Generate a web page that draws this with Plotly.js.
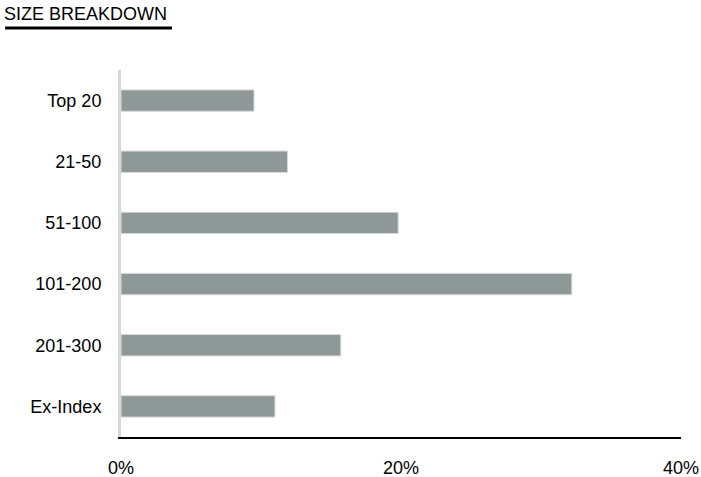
<!DOCTYPE html>
<html>
<head>
<meta charset="utf-8">
<script src="https://cdn.plot.ly/plotly-3.0.1.min.js"></script>
<style>
  body { margin: 0; background: #fff; }
  #chart { width: 701px; height: 477px; }
</style>
</head>
<body>
<div id="chart"></div>
<script>
// size buckets, top to bottom
var categories = ["Top 20", "21-50", "51-100", "101-200", "201-300", "Ex-Index"];
var shares = [9.5, 11.9, 19.8, 32.2, 15.7, 11.0]; // percent
var tickValues = [0, 20, 40];
var tickLabels = ["0%", "20%", "40%"];

var font = "'Liberation Sans Narrow', 'Arial Narrow', 'Liberation Sans', Arial, sans-serif";

var bars = [
    {
        type: "bar",
        orientation: "h",
        y: categories,
        x: shares,
        width: 0.35,
        marker: {
            color: "#8e9997",
            line: { color: "#d8dcdb", width: 1 },
        },
        hoverinfo: "x+y",
    },
];

var layout = {
    width: 701,
    height: 477,
    margin: { l: 121, r: 20, t: 70, b: 40 },
    paper_bgcolor: "#fff",
    plot_bgcolor: "#fff",
    showlegend: false,
    font: { family: font, size: 18, color: "#000" },
    xaxis: {
        range: [0, 40],
        tickvals: tickValues,
        ticktext: tickLabels,
        showgrid: false,
        zeroline: false,
        showline: true,
        linecolor: "#000",
        linewidth: 1.5,
        ticks: "",
        ticklabelstandoff: 14,
        tickfont: { family: font, size: 18, color: "#000" },
        fixedrange: true,
    },
    yaxis: {
        autorange: "reversed",
        showgrid: false,
        zeroline: false,
        showline: true,
        linecolor: "#d6d6d6",
        linewidth: 3,
        ticks: "",
        ticklabelstandoff: 13,
        tickfont: { family: font, size: 18, color: "#000" },
        fixedrange: true,
    },
    annotations: [
        {
            text: "SIZE BREAKDOWN",
            xref: "paper",
            yref: "paper",
            x: -0.212,
            y: 1.12,
            xanchor: "left",
            yanchor: "bottom",
            showarrow: false,
            font: { family: font, size: 18, color: "#000" },
        },
    ],
    shapes: [
        // title underline
        {
            type: "line",
            xref: "paper",
            yref: "paper",
            x0: -0.207,
            x1: 0.0911,
            y0: 1.1144,
            y1: 1.1144,
            line: { color: "#000", width: 3 },
        },
    ],
};

Plotly.newPlot("chart", bars, layout, { displayModeBar: false, staticPlot: true });
</script>
</body>
</html>
